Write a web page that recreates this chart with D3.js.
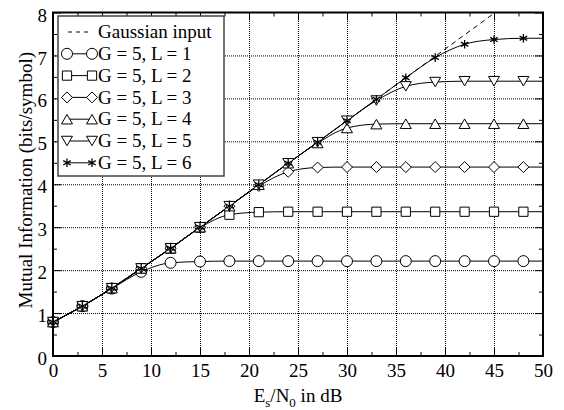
<!DOCTYPE html>
<html>
<head>
<meta charset="utf-8">
<script src="https://cdn.jsdelivr.net/npm/d3@7"></script>
<style>
  body { margin: 0; background: #fff; }
  text { font-family: "Liberation Serif", "Times New Roman", serif; fill: #000; }
</style>
</head>
<body>
<div id="chart"></div>
<script>
// mutual information vs Es/N0
var snr = [0, 3, 6, 9, 12, 15, 18, 21, 24, 27, 30, 33, 36, 39, 42, 45, 48, 50];
var markerSnr = [0, 3, 6, 9, 12, 15, 18, 21, 24, 27, 30, 33, 36, 39, 42, 45, 48];

var gaussian = [0.79, 1.16, 1.58, 2.04, 2.51, 3.00, 3.49, 3.99, 4.49, 4.98, 5.48, 5.98, 6.48, 6.98, 7.48, 7.98, 8.48, 8.81];
var miL1 = [0.79, 1.16, 1.57, 1.96, 2.17, 2.20, 2.21, 2.21, 2.21, 2.21, 2.21, 2.21, 2.21, 2.21, 2.21, 2.21, 2.21, 2.21];
var miL2 = [0.79, 1.16, 1.58, 2.04, 2.50, 2.99, 3.29, 3.35, 3.36, 3.36, 3.36, 3.36, 3.36, 3.36, 3.36, 3.36, 3.36, 3.36];
var miL3 = [0.79, 1.16, 1.58, 2.04, 2.51, 3.00, 3.49, 3.96, 4.29, 4.39, 4.40, 4.40, 4.40, 4.40, 4.40, 4.40, 4.40, 4.40];
var miL4 = [0.79, 1.16, 1.58, 2.04, 2.51, 3.00, 3.49, 3.99, 4.49, 4.96, 5.31, 5.40, 5.41, 5.41, 5.41, 5.41, 5.41, 5.41];
var miL5 = [0.79, 1.16, 1.58, 2.04, 2.51, 3.00, 3.49, 3.99, 4.49, 4.98, 5.48, 5.95, 6.28, 6.38, 6.40, 6.40, 6.40, 6.40];
var miL6 = [0.79, 1.16, 1.58, 2.04, 2.51, 3.00, 3.49, 3.99, 4.49, 4.98, 5.48, 5.98, 6.48, 6.95, 7.26, 7.37, 7.40, 7.40];

var seriesNames = ["G = 5, L = 1", "G = 5, L = 2", "G = 5, L = 3", "G = 5, L = 4", "G = 5, L = 5", "G = 5, L = 6"];
var xTicks = [0, 5, 10, 15, 20, 25, 30, 35, 40, 45, 50];
var yTicks = [0, 1, 2, 3, 4, 5, 6, 7, 8];

var width = 564;
var height = 410;
var margin = { left: 53, top: 12.5, right: 21, bottom: 54 };
var w = width - margin.left - margin.right;
var h = height - margin.top - margin.bottom;

var svg = d3.select("#chart")
  .append("svg")
  .attr("width", width)
  .attr("height", height);

var g = svg.append("g")
  .attr("transform", "translate(" + margin.left + "," + margin.top + ")");

var x = d3.scaleLinear().domain([0, 50]).range([0, w]);
var y = d3.scaleLinear().domain([0, 8]).range([h, 0]);

// grid
g.append("g")
  .attr("transform", "translate(0," + h + ")")
  .call(d3.axisBottom(x).tickValues(xTicks.slice(1, -1)).tickSize(-h).tickFormat(""))
  .call(function (s) { s.select(".domain").remove(); })
  .selectAll("line").attr("stroke", "#000").attr("stroke-dasharray", "1,1");
g.append("g")
  .call(d3.axisLeft(y).tickValues(yTicks.slice(1, -1)).tickSize(-w).tickFormat(""))
  .call(function (s) { s.select(".domain").remove(); })
  .selectAll("line").attr("stroke", "#000").attr("stroke-dasharray", "1,1");

// inward ticks on all four sides
var xMinor = d3.range(2.5, 50, 5);
var yMinor = d3.range(0.5, 8, 1);
function ticks(axis, vals, len, tr) {
  g.append("g")
    .attr("transform", tr)
    .call(axis.tickValues(vals).tickSize(-len).tickFormat(""))
    .call(function (s) { s.select(".domain").remove(); })
    .selectAll("line").attr("stroke", "#000").attr("stroke-width", 1);
}
ticks(d3.axisBottom(x), xTicks, 8, "translate(0," + h + ")");
ticks(d3.axisBottom(x), xMinor, 4, "translate(0," + h + ")");
ticks(d3.axisTop(x), xTicks, 8, "translate(0,0)");
ticks(d3.axisTop(x), xMinor, 4, "translate(0,0)");
ticks(d3.axisLeft(y), yTicks, 8, "translate(0,0)");
ticks(d3.axisLeft(y), yMinor, 4, "translate(0,0)");
ticks(d3.axisRight(y), yTicks, 8, "translate(" + w + ",0)");
ticks(d3.axisRight(y), yMinor, 4, "translate(" + w + ",0)");

// tick labels
var xAx = g.append("g")
  .attr("transform", "translate(0," + h + ")")
  .call(d3.axisBottom(x).tickValues(xTicks).tickSize(0).tickPadding(7.5));
xAx.select(".domain").remove();
xAx.selectAll("text").style("font-size", "19px").style("font-family", "Liberation Serif");

var yAx = g.append("g")
  .call(d3.axisLeft(y).tickValues(yTicks).tickSize(0).tickPadding(6));
yAx.select(".domain").remove();
yAx.selectAll("text").attr("dy", "0.45em").style("font-size", "19px").style("font-family", "Liberation Serif");

// clip
svg.append("defs").append("clipPath").attr("id", "plotclip")
  .append("rect").attr("width", w).attr("height", h);

var plot = g.append("g").attr("clip-path", "url(#plotclip)");

var line = d3.line()
  .x(function (d) { return x(d[0]); })
  .y(function (d) { return y(d[1]); })
  .curve(d3.curveMonotoneX);

function pts(vals) {
  return snr.map(function (s, i) { return [s, vals[i]]; });
}

plot.append("path")
  .datum(pts(gaussian))
  .attr("d", line)
  .attr("fill", "none")
  .attr("stroke", "#000")
  .attr("stroke-width", 1)
  .attr("stroke-dasharray", "5,4");

var diamond = {
  draw: function (ctx, size) {
    var r = Math.sqrt(size / 2);
    ctx.moveTo(0, -r); ctx.lineTo(r, 0); ctx.lineTo(0, r); ctx.lineTo(-r, 0); ctx.closePath();
  }
};
var triDown = {
  draw: function (ctx, size) {
    var s = Math.sqrt(size * 4 / Math.sqrt(3));
    var hh = s * Math.sqrt(3) / 2;
    ctx.moveTo(-s / 2, -hh / 2); ctx.lineTo(s / 2, -hh / 2); ctx.lineTo(0, hh / 2); ctx.closePath();
  }
};
var triUp = {
  draw: function (ctx, size) {
    var s = Math.sqrt(size * 4 / Math.sqrt(3));
    var hh = s * Math.sqrt(3) / 2;
    ctx.moveTo(-s / 2, hh / 2); ctx.lineTo(s / 2, hh / 2); ctx.lineTo(0, -hh / 2); ctx.closePath();
  }
};

var symbols = [
  d3.symbol().type(d3.symbolCircle).size(95),
  d3.symbol().type(d3.symbolSquare).size(85),
  d3.symbol().type(diamond).size(60),
  d3.symbol().type(triUp).size(52),
  d3.symbol().type(triDown).size(52),
  d3.symbol().type(d3.symbolAsterisk).size(52)
];

var allSeries = [miL1, miL2, miL3, miL4, miL5, miL6];

allSeries.forEach(function (vals, k) {
  plot.append("path")
    .datum(pts(vals))
    .attr("d", line)
    .attr("fill", "none")
    .attr("stroke", "#000")
    .attr("stroke-width", 1);

  g.selectAll(".m" + k)
    .data(markerSnr.map(function (s, i) { return [s, vals[i]]; }))
    .enter()
    .append("path")
    .attr("class", "m" + k)
    .attr("transform", function (d) { return "translate(" + x(d[0]) + "," + y(d[1]) + ")"; })
    .attr("d", symbols[k])
    .attr("fill", k == 5 ? "none" : "#fff")
    .attr("stroke", "#000")
    .attr("stroke-width", k == 5 ? 1.3 : 1);
});

// frame
g.append("rect")
  .attr("width", w)
  .attr("height", h)
  .attr("fill", "none")
  .attr("stroke", "#000")
  .attr("stroke-width", 2);

// legend
var lx = 58 - margin.left;
var ly = 16 - margin.top;
var legend = g.append("g");
legend.append("rect")
  .attr("x", lx)
  .attr("y", ly)
  .attr("width", 166)
  .attr("height", 160)
  .attr("fill", "#fff")
  .attr("stroke", "#444")
  .attr("stroke-width", 1.5);

var rowY = function (i) { return ly + 16 + i * 21.8; };
var symX1 = 67 - margin.left;
var symX2 = 92 - margin.left;
var textX = 98 - margin.left;

legend.append("line")
  .attr("x1", symX1 + 1).attr("x2", symX2)
  .attr("y1", rowY(0)).attr("y2", rowY(0))
  .attr("stroke", "#000")
  .attr("stroke-dasharray", "4,4");
legend.append("text")
  .attr("x", textX).attr("y", rowY(0)).attr("dy", "0.33em")
  .style("font-size", "19px")
  .text("Gaussian input");

seriesNames.forEach(function (name, k) {
  var yy = rowY(k + 1);
  legend.append("line")
    .attr("x1", symX1).attr("x2", symX2)
    .attr("y1", yy).attr("y2", yy)
    .attr("stroke", "#000");
  [symX1, symX2].forEach(function (sx) {
    legend.append("path")
      .attr("transform", "translate(" + sx + "," + yy + ")")
      .attr("d", symbols[k])
      .attr("fill", k == 5 ? "none" : "#fff")
      .attr("stroke", "#000")
      .attr("stroke-width", k == 5 ? 1.3 : 1);
  });
  legend.append("text")
    .attr("x", textX).attr("y", yy).attr("dy", "0.33em")
    .style("font-size", "19px")
    .text(name);
});

// axis titles
var xt = svg.append("text")
  .attr("x", margin.left + w / 2)
  .attr("y", 402)
  .attr("text-anchor", "middle")
  .style("font-size", "19px");
xt.append("tspan").text("E");
xt.append("tspan").attr("dy", 5).style("font-size", "13px").text("s");
xt.append("tspan").attr("dy", -5).text("/N");
xt.append("tspan").attr("dy", 5).style("font-size", "13px").text("0");
xt.append("tspan").attr("dy", -5).text(" in dB");

svg.append("text")
  .attr("transform", "translate(32," + (margin.top + h / 2 - 4) + ") rotate(-90)")
  .attr("text-anchor", "middle")
  .style("font-size", "19px")
  .text("Mutual Information (bits/symbol)");
</script>
</body>
</html>
